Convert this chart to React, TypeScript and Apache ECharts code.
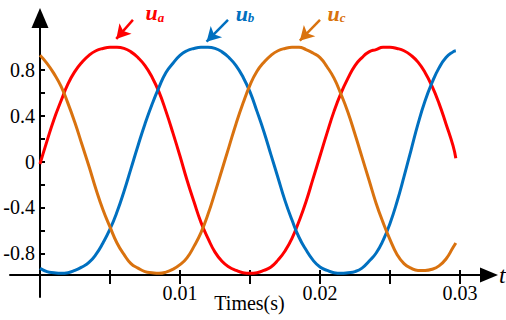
import React, { useEffect, useRef } from "react";
import * as echarts from "echarts";

// time samples (s)
const timeS = [
  0, 0.0005, 0.001, 0.0015, 0.002, 0.0025, 0.003, 0.0035, 0.004, 0.0045,
  0.005, 0.0055, 0.006, 0.0065, 0.007, 0.0075, 0.008, 0.0085, 0.009, 0.0095,
  0.01, 0.0105, 0.011, 0.0115, 0.012, 0.0125, 0.013, 0.0135, 0.014, 0.0145,
  0.015, 0.0155, 0.016, 0.0165, 0.017, 0.0175, 0.018, 0.0185, 0.019, 0.0195,
  0.02, 0.0205, 0.021, 0.0215, 0.022, 0.0225, 0.023, 0.0235, 0.024, 0.0245,
  0.025, 0.0255, 0.026, 0.0265, 0.027, 0.0275, 0.028, 0.0285, 0.029, 0.0295,
  0.0297,
];

const ua = [
  -0.02, 0.18, 0.37, 0.53, 0.68, 0.79, 0.87, 0.93, 0.97, 0.99,
  1.0, 1.0, 0.99, 0.96, 0.91, 0.84, 0.74, 0.61, 0.44, 0.25,
  0.05, -0.16, -0.35, -0.53, -0.67, -0.79, -0.87, -0.92, -0.95, -0.97,
  -0.975, -0.97, -0.95, -0.92, -0.86, -0.78, -0.67, -0.52, -0.35, -0.15,
  0.05, 0.25, 0.44, 0.6, 0.73, 0.84, 0.91, 0.96, 0.98, 1.0,
  1.0, 0.99, 0.97, 0.93, 0.87, 0.78, 0.66, 0.51, 0.33, 0.14,
  0.03,
];

const ub = [
  -0.93, -0.96, -0.97, -0.975, -0.97, -0.95, -0.92, -0.88, -0.81, -0.71,
  -0.59, -0.44, -0.26, -0.06, 0.14, 0.33, 0.5, 0.65, 0.78, 0.86,
  0.93, 0.97, 0.99, 1.0, 1.0, 0.99, 0.96, 0.91, 0.84, 0.74,
  0.61, 0.44, 0.26, 0.06, -0.14, -0.34, -0.51, -0.66, -0.77, -0.86,
  -0.92, -0.95, -0.97, -0.975, -0.97, -0.96, -0.93, -0.87, -0.8, -0.69,
  -0.54, -0.35, -0.13, 0.1, 0.33, 0.53, 0.69, 0.82, 0.91, 0.96,
  0.97,
];

const uc = [
  0.93, 0.86, 0.77, 0.66, 0.51, 0.34, 0.15, -0.04, -0.24, -0.42,
  -0.57, -0.71, -0.81, -0.89, -0.93, -0.96, -0.97, -0.975, -0.965, -0.94,
  -0.9, -0.84, -0.74, -0.62, -0.46, -0.27, -0.07, 0.13, 0.33, 0.51,
  0.67, 0.79, 0.87, 0.93, 0.97, 0.99, 1.0, 1.0, 0.98, 0.95,
  0.91, 0.83, 0.73, 0.59, 0.43, 0.24, 0.04, -0.16, -0.36, -0.53,
  -0.68, -0.81, -0.89, -0.93, -0.95, -0.95, -0.94, -0.91, -0.85, -0.75,
  -0.71,
];

const xTickValues = [0.005, 0.01, 0.015, 0.02, 0.025, 0.03];
const xLabelValues = [0.01, 0.02, 0.03];
const yTickValues = [-0.8, -0.6, -0.4, -0.2, 0, 0.2, 0.4, 0.6, 0.8];
const yLabelValues = [-0.8, -0.4, 0, 0.4, 0.8];

const seriesNames = ["a", "b", "c"];
const seriesColors = ["#FF0000", "#0070C0", "#D9720F"];
// annotation arrows: [start, end] in data units
const arrowStarts = [
  [0.00664, 1.239],
  [0.01343, 1.239],
  [0.02, 1.239],
];
const arrowEnds = [
  [0.00545, 1.073],
  [0.0119, 1.049],
  [0.01856, 1.058],
];
const labelOffsets = [
  [22, -7],
  [17, -6.5],
  [16.5, -6.5],
];

const X_MIN = -0.00214;
const X_MAX = 0.03207;
const Y_MIN = -0.99;
const Y_MAX = 1.256;
const Y_EXT_MIN = -1.183;

const FONT = "'Liberation Serif', 'Times New Roman', serif";

export default function App() {
  const ref = useRef<HTMLDivElement>(null);

  useEffect(() => {
    document.body.style.margin = "0";
    if (!ref.current) return;
    const chart = echarts.init(ref.current, undefined, { renderer: "svg" });
    const values = [ua, ub, uc];

    const series: any[] = values.map((vals, k) => ({
      type: "line",
      xAxisIndex: 0,
      yAxisIndex: 0,
      data: timeS.map((t, i) => [t, vals[i]]),
      showSymbol: false,
      smooth: 0.5,
      clip: false,
      lineStyle: { color: seriesColors[k], width: 3 },
      itemStyle: { color: seriesColors[k] },
      z: 3,
      markLine: {
        silent: true,
        animation: false,
        symbol: ["none", "arrow"],
        symbolSize: [12, 14],
        lineStyle: { color: seriesColors[k], width: 2.5, type: "solid" },
        label: { show: false },
        emphasis: { disabled: true },
        data: [
          [
            { coord: arrowStarts[k] },
            { coord: arrowEnds[k] },
          ],
        ],
      },
      markPoint: {
        silent: true,
        animation: false,
        symbol: "circle",
        symbolSize: 0,
        data: [
          {
            coord: arrowStarts[k],
            label: {
              show: true,
              position: "inside",
              offset: labelOffsets[k],
              formatter: "{u|u}{s|" + seriesNames[k] + "}",
              rich: {
                u: {
                  fontFamily: FONT,
                  fontStyle: "italic",
                  fontWeight: "bold",
                  fontSize: 22,
                  color: seriesColors[k],
                  verticalAlign: "bottom",
                },
                s: {
                  fontFamily: FONT,
                  fontStyle: "italic",
                  fontWeight: "bold",
                  fontSize: 13,
                  color: seriesColors[k],
                  verticalAlign: "bottom",
                },
              },
            },
          },
        ],
      },
    }));

    const option: any = {
      animation: false,
      backgroundColor: "#ffffff",
      grid: [
        { left: 10, right: 17, top: 18, bottom: 45, containLabel: false, outerBoundsMode: "none" },
        { left: 10, right: 17, top: 18, bottom: 23, containLabel: false, outerBoundsMode: "none" },
      ],
      xAxis: [
        {
          type: "value",
          gridIndex: 0,
          min: X_MIN,
          max: X_MAX,
          position: "bottom",
          name: "Times(s)",
          nameLocation: "middle",
          nameGap: 18,
          nameMoveOverlap: false,
          nameTextStyle: { fontFamily: FONT, fontSize: 20, color: "#000" },
          axisLine: {
            show: true,
            onZero: false,
            symbol: ["none", "triangle"],
            symbolSize: [15, 18],
            lineStyle: { color: "#000", width: 2 },
          },
          axisTick: {
            show: true,
            inside: false,
            length: 9,
            customValues: xTickValues,
            lineStyle: { color: "#000", width: 2 },
          },
          axisLabel: {
            show: true,
            customValues: xLabelValues,
            margin: 8,
            fontFamily: FONT,
            fontSize: 20,
            color: "#000",
          },
          splitLine: { show: false },
        },
        {
          type: "value",
          gridIndex: 1,
          min: X_MIN,
          max: X_MAX,
          show: false,
        },
        {
          type: "value",
          gridIndex: 0,
          min: X_MIN,
          max: X_MAX,
          position: "bottom",
          name: "t",
          nameLocation: "end",
          nameGap: 10,
          nameMoveOverlap: false,
          nameTextStyle: {
            fontFamily: FONT,
            fontSize: 24,
            fontStyle: "italic",
            color: "#000",
          },
          axisLine: { show: false, onZero: false },
          axisTick: {
            show: true,
            inside: true,
            length: 5,
            customValues: xTickValues,
            lineStyle: { color: "#000", width: 2 },
          },
          axisLabel: { show: false },
          splitLine: { show: false },
        },
      ],
      yAxis: [
        {
          type: "value",
          gridIndex: 0,
          min: Y_MIN,
          max: Y_MAX,
          position: "left",
          offset: -30,
          axisLine: { show: false, onZero: false },
          axisTick: {
            show: true,
            inside: true,
            length: 5,
            customValues: yTickValues,
            lineStyle: { color: "#000", width: 2 },
          },
          axisLabel: {
            show: true,
            customValues: yLabelValues,
            margin: 5,
            fontFamily: FONT,
            fontSize: 20,
            color: "#000",
          },
          splitLine: { show: false },
        },
        {
          type: "value",
          gridIndex: 1,
          min: Y_EXT_MIN,
          max: Y_MAX,
          position: "left",
          offset: -30,
          axisLine: {
            show: true,
            onZero: false,
            symbol: ["none", "triangle"],
            symbolSize: [17, 20],
            lineStyle: { color: "#000", width: 2 },
          },
          axisTick: { show: false },
          axisLabel: { show: false },
          splitLine: { show: false },
        },
      ],
      series,
    };

    chart.setOption(option);
    return () => {
      chart.dispose();
    };
  }, []);

  return <div ref={ref} style={{ width: 506, height: 320 }} />;
}
